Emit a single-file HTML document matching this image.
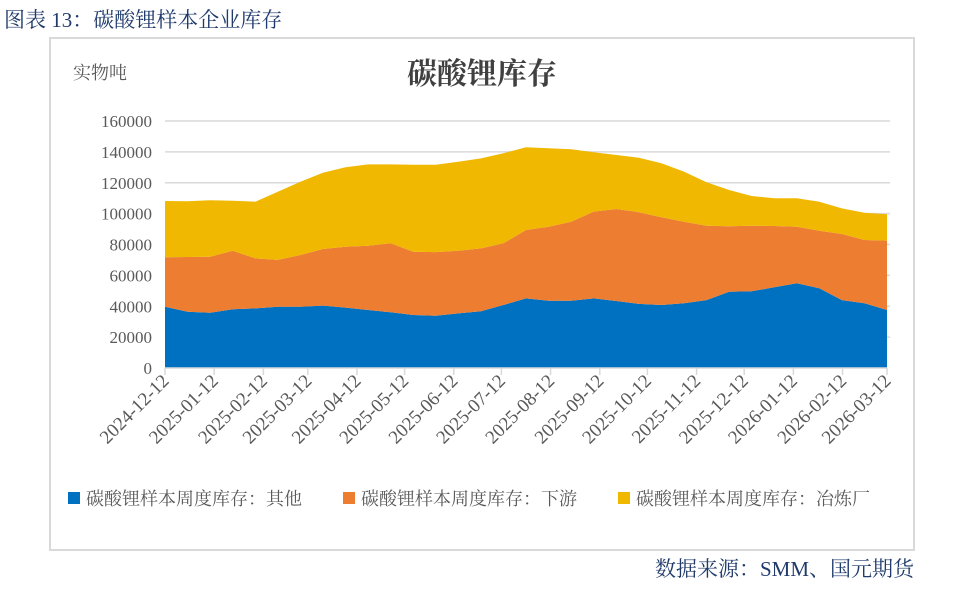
<!DOCTYPE html>
<html><head><meta charset="utf-8"><style>
body{margin:0;background:#fff;width:977px;height:584px;overflow:hidden;font-family:"Liberation Serif","Noto Serif CJK SC",serif;}
</style></head><body>
<svg width="977" height="584" xmlns="http://www.w3.org/2000/svg" id="chart">
<text x="4" y="27" font-size="21" fill="#1f3a6b" font-family="Liberation Serif, Noto Serif CJK SC, serif">图表 13：碳酸锂样本企业库存</text>
<rect x="50" y="38" width="864" height="512" fill="#fff" stroke="#d9d9d9" stroke-width="2"/>
<text x="73" y="79" font-size="18" fill="#595959">实物吨</text>
<text x="482" y="84" font-size="30" font-weight="bold" fill="#404040" text-anchor="middle">碳酸锂库存</text>
<g id="grid"></g><g id="areas"></g><g id="axes"></g>
<g id="legend" font-size="18" fill="#595959"></g>
<text x="914" y="576" font-size="21" fill="#1f3a6b" text-anchor="end">数据来源：SMM、国元期货</text>
</svg>
<script>
const yTicks=[0,20000,40000,60000,80000,100000,120000,140000,160000];
const xLabels=["2024-12-12","2025-01-12","2025-02-12","2025-03-12","2025-04-12","2025-05-12","2025-06-12","2025-07-12","2025-08-12","2025-09-12","2025-10-12","2025-11-12","2025-12-12","2026-01-12","2026-02-12","2026-03-12"];
const seriesNames=["碳酸锂样本周度库存：其他","碳酸锂样本周度库存：下游","碳酸锂样本周度库存：冶炼厂"];
const other=[39700,36500,35800,38000,38600,39700,39700,40400,39100,37600,36100,34300,33900,35400,36700,40800,45100,43600,43600,45100,43400,41500,40800,41900,44000,49400,49700,52300,54900,51600,44000,41900,37600];
const downstream=[32000,35400,36300,38000,32400,30300,33500,36700,39500,41600,44700,41000,41200,40600,40800,40000,44300,47900,51200,56200,59600,59400,56800,52900,48200,42400,42500,39700,36600,37300,42800,41000,44900];
const smelter=[36500,36100,36500,32400,36700,44200,47500,49400,51400,52700,51100,56400,56600,57600,58300,58300,53600,50800,46900,38400,35000,35300,35000,32400,28100,23500,19200,17900,18400,18800,16600,17700,17100];
const NS="http://www.w3.org/2000/svg";
const X0=165,X1=887,Y0=368,Y1=121,YMAX=160000;
const t0=Date.parse(xLabels[0]),t1=Date.parse(xLabels[xLabels.length-1]);
const xDate=s=>X0+(Date.parse(s)-t0)/(t1-t0)*(X1-X0);
const xIdx=i=>X0+i*(X1-X0)/(other.length-1);
const y=v=>Y0-v/YMAX*(Y0-Y1);
function mk(tag,attrs,parent){const e=document.createElementNS(NS,tag);for(const k in attrs)e.setAttribute(k,attrs[k]);document.getElementById(parent).appendChild(e);return e;}
yTicks.forEach(v=>{
 if(v>0){const l=mk('line',{x1:X0,x2:X1+3,y1:y(v),y2:y(v),stroke:'#d9d9d9','stroke-width':1.5},'grid');
 
 }
 const t=mk('text',{x:152,y:y(v)+6,'text-anchor':'end','font-size':17,fill:'#595959'},'axes');t.textContent=v;
 
 
});
const series=[other,downstream,smelter],colors=['#0070c0','#ed7d31','#f0b800'];
const cum=other.map(()=>0);
series.forEach((s,k)=>{
 const lo=cum.slice();s.forEach((v,i)=>cum[i]+=v);
 let d='';cum.forEach((v,i)=>d+=(i?'L':'M')+xIdx(i).toFixed(1)+','+y(v).toFixed(1));
 for(let i=lo.length-1;i>=0;i--)d+='L'+xIdx(i).toFixed(1)+','+y(lo[i]).toFixed(1);
 const p=mk('path',{d:d+'Z',fill:colors[k]},'areas');
 
 
});
const ax=mk('line',{x1:X0,x2:X1,y1:Y0,y2:Y0,stroke:'#d9d9d9','stroke-width':1.5},'axes');


xLabels.forEach(s=>{
 const x=xDate(s);
 const tk=mk('line',{x1:x,x2:x,y1:Y0,y2:Y0+7,stroke:'#d9d9d9','stroke-width':1.5},'axes');
 
 
 const t=mk('text',{x:x+5,y:Y0+14,'text-anchor':'end','font-size':19,fill:'#595959',transform:`rotate(-45 ${x+5} ${Y0+14})`},'axes');t.textContent=s;
 
 
});
const lx=[68,343,618];
seriesNames.forEach((n,k)=>{
 const r=mk('rect',{x:lx[k],y:492,width:12,height:12,fill:colors[k]},'legend');
 
 
 const t=mk('text',{x:lx[k]+18,y:505},'legend');t.textContent=n;
 
 
});
</script>
</body></html>
